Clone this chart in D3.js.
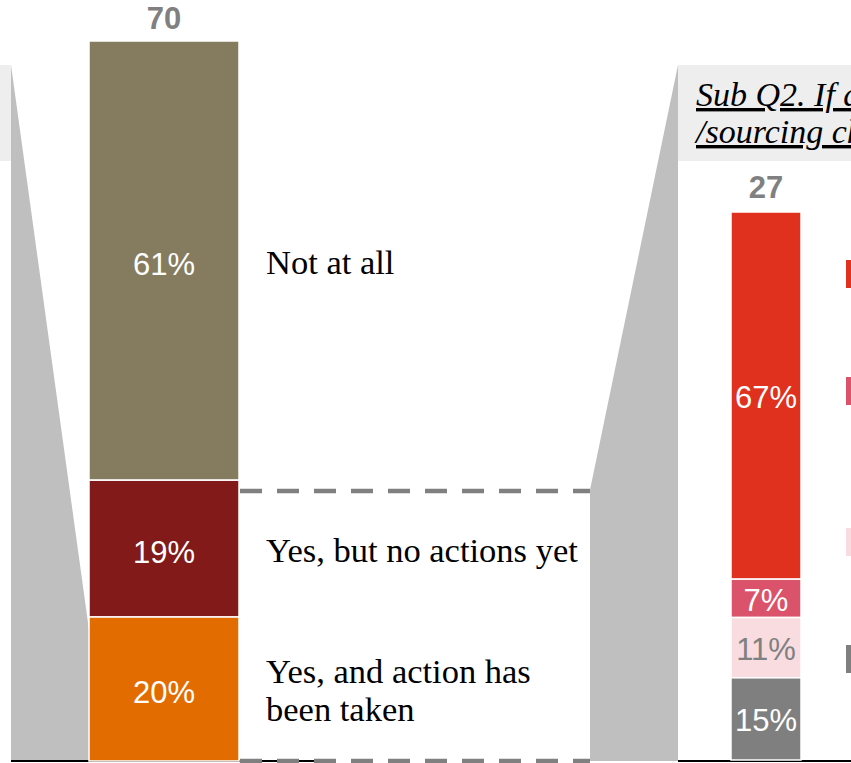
<!DOCTYPE html>
<html>
<head>
<meta charset="utf-8">
<script src="https://cdn.jsdelivr.net/npm/d3@7"></script>
<style>
  html, body { margin: 0; padding: 0; background: #fff; overflow: hidden; }
  svg { display: block; }
</style>
</head>
<body>
<svg id="chart" width="851" height="763"></svg>
<script>
// Main question: share of respondents (n = 70)
const leftCategories = ["Not at all", "Yes, but no actions yet", "Yes, and action has been taken"];
const leftValues = [61, 19, 20];
const leftTotal = 70;
const leftColors = ["#857C5F", "#821A1A", "#E36C00"];

// Sub question: breakdown for those who took action (n = 27)
const rightValues = [67, 7, 11, 15];
const rightTotal = 27;
const rightColors = ["#E0301E", "#DB536A", "#F8DCE0", "#7F7F7F"];
const rightLabelColors = ["#ffffff", "#ffffff", "#808080", "#ffffff"];
const subTitleLines = ["Sub Q2. If action has been taken, what supply chain", "/sourcing changes were made?"];

const svg = d3.select("#chart");

const baseY = 761;
const leftBar = { x: 89, w: 150, top: 41 };
const rightBar = { x: 731, w: 70, top: 212 };

const yLeft = d3.scaleLinear().domain([0, 100]).range([baseY, leftBar.top]);
const yRight = d3.scaleLinear().domain([0, 100]).range([baseY - 1, rightBar.top]);

// stack segments from the top down
function stackTopDown(values) {
  let acc = 100;
  return values.map((v, i) => {
    const seg = { i, v, hi: acc, lo: acc - v };
    acc -= v;
    return seg;
  });
}
const leftSegs = stackTopDown(leftValues);
const rightSegs = stackTopDown(rightValues);

const sans = "'Liberation Sans', Arial, sans-serif";
const serif = "'Liberation Serif', 'Times New Roman', serif";

// header band on the far left (continuation of the previous panel)
svg.append("rect").attr("x", 0).attr("y", 65).attr("width", 11).attr("height", 96).attr("fill", "#EEEEEE");

// zoom connector into the left bar
const gray = "#BFBFBF";
svg.append("path")
  .attr("d", d3.line()([[11, 65], [leftBar.x, 630], [leftBar.x, baseY], [11, baseY]]))
  .attr("fill", gray);

// header band of the sub question
svg.append("rect").attr("x", 678).attr("y", 65).attr("width", 173).attr("height", 96).attr("fill", "#EEEEEE");

// zoom connector into the right bar
const connectY = 491;
svg.append("path")
  .attr("d", d3.line()([[678, 65], [590, connectY - 1], [590, baseY], [678, baseY]]))
  .attr("fill", gray);

// baselines
svg.append("line").attr("x1", 11).attr("x2", 315).attr("y1", baseY).attr("y2", baseY)
  .attr("stroke", "#000").attr("stroke-width", 2);
svg.append("line").attr("x1", 678).attr("x2", 851).attr("y1", baseY).attr("y2", baseY)
  .attr("stroke", "#000").attr("stroke-width", 2);

// dashed guides between the two bars
[connectY, baseY].forEach(y => {
  svg.append("line")
    .attr("x1", leftBar.x + leftBar.w + 1).attr("x2", 590)
    .attr("y1", y).attr("y2", y)
    .attr("stroke", "#808080").attr("stroke-width", 4.5)
    .attr("stroke-dasharray", "22,15");
});

// left stacked bar
const gl = svg.append("g");
gl.selectAll("rect").data(leftSegs).join("rect")
  .attr("x", leftBar.x).attr("width", leftBar.w)
  .attr("y", d => yLeft(d.hi)).attr("height", d => yLeft(d.lo) - yLeft(d.hi))
  .attr("fill", d => leftColors[d.i])
  .attr("stroke", "#fff").attr("stroke-width", 1.5);
gl.selectAll("text.pct").data(leftSegs).join("text").attr("class", "pct")
  .attr("x", leftBar.x + leftBar.w / 2)
  .attr("y", d => (yLeft(d.hi) + yLeft(d.lo)) / 2 + 3)
  .attr("dy", "0.36em").attr("text-anchor", "middle")
  .attr("font-family", sans).attr("font-size", 31)
  .attr("fill", "#fff").text(d => d.v + "%");
svg.append("text").attr("x", leftBar.x + leftBar.w / 2).attr("y", 29)
  .attr("text-anchor", "middle")
  .attr("font-family", sans).attr("font-size", 31).attr("font-weight", "bold")
  .attr("fill", "#808080").text(leftTotal);

// category labels of the left bar
const catLines = [["Not at all"], ["Yes, but no actions yet"], ["Yes, and action has", "been taken"]];
leftSegs.forEach(d => {
  const lines = catLines[d.i];
  const cy = (yLeft(d.hi) + yLeft(d.lo)) / 2 + 2;
  const lh = 38;
  const t = svg.append("text")
    .attr("font-family", serif).attr("font-size", 34.5)
    .attr("fill", "#000");
  lines.forEach((s, k) => {
    t.append("tspan").attr("x", 266)
      .attr("y", cy + (k - (lines.length - 1) / 2) * lh)
      .attr("dy", "0.33em").text(s);
  });
});

// right stacked bar
const gr = svg.append("g");
gr.selectAll("rect").data(rightSegs).join("rect")
  .attr("x", rightBar.x).attr("width", rightBar.w)
  .attr("y", d => yRight(d.hi)).attr("height", d => yRight(d.lo) - yRight(d.hi))
  .attr("fill", d => rightColors[d.i])
  .attr("stroke", "#fff").attr("stroke-width", 1.5);
gr.selectAll("text.pct").data(rightSegs).join("text").attr("class", "pct")
  .attr("x", rightBar.x + rightBar.w / 2)
  .attr("y", d => (yRight(d.hi) + yRight(d.lo)) / 2 + 1)
  .attr("dy", "0.36em").attr("text-anchor", "middle")
  .attr("font-family", sans).attr("font-size", 31)
  .attr("fill", d => rightLabelColors[d.i]).text(d => d.v + "%");
svg.append("text").attr("x", rightBar.x + rightBar.w / 2).attr("y", 198)
  .attr("text-anchor", "middle")
  .attr("font-family", sans).attr("font-size", 31).attr("font-weight", "bold")
  .attr("fill", "#808080").text(rightTotal);

// sub question title
const title = svg.append("text")
  .attr("font-family", serif).attr("font-size", 34)
  .attr("font-style", "italic").attr("text-decoration", "underline").attr("fill", "#000");
subTitleLines.forEach((s, k) => {
  title.append("tspan").attr("x", 696).attr("y", 106 + k * 37).text(s);
});

// legend swatches of the sub question
const legendY = [260, 377, 528, 645];
svg.selectAll("rect.sw").data(rightColors).join("rect").attr("class", "sw")
  .attr("x", 846).attr("y", (d, i) => legendY[i]).attr("width", 28).attr("height", 28)
  .attr("fill", d => d);
</script>
</body>
</html>
